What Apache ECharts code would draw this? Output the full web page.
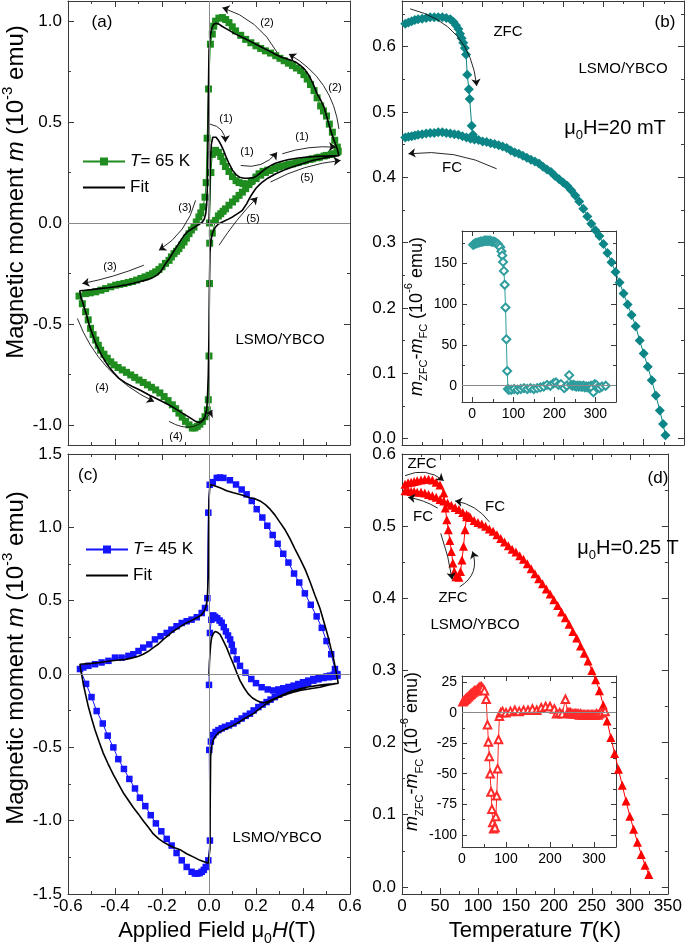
<!DOCTYPE html>
<html><head><meta charset="utf-8">
<script src="https://cdn.jsdelivr.net/npm/echarts@6.0.0/dist/echarts.min.js"></script>
<style>html,body{margin:0;padding:0;background:#fff}#c{width:685px;height:947px}</style>
</head><body><div id="c"></div>
<script>
// ================= DATA =================
// (a) T = 65 K loop: measured data, [H (T), m (1e-3 emu)]
const a_virgin = [[0.002,0.00],[0.008,0.25],[0.014,0.34],[0.028,0.36],[0.04,0.35],[0.05,0.33],[0.06,0.305],[0.07,0.28],[0.085,0.255],[0.1,0.23],[0.115,0.21],[0.128,0.2],[0.145,0.195],[0.163,0.194],[0.18,0.205],[0.2,0.22],[0.22,0.237],[0.24,0.25],[0.26,0.26],[0.28,0.27],[0.3,0.277],[0.33,0.285],[0.355,0.293],[0.38,0.3],[0.41,0.31],[0.44,0.318],[0.47,0.326],[0.5,0.335],[0.525,0.343],[0.55,0.356]];
const a_down = [[0.546,0.376],[0.535,0.41],[0.525,0.45],[0.512,0.49],[0.5,0.53],[0.487,0.555],[0.475,0.58],[0.46,0.62],[0.447,0.656],[0.432,0.686],[0.418,0.713],[0.404,0.735],[0.39,0.755],[0.372,0.768],[0.355,0.78],[0.338,0.792],[0.32,0.804],[0.302,0.816],[0.284,0.829],[0.262,0.842],[0.24,0.853],[0.22,0.865],[0.2,0.878],[0.178,0.893],[0.156,0.91],[0.135,0.93],[0.113,0.952],[0.099,0.972],[0.085,0.993],[0.071,1.008],[0.057,1.018],[0.042,1.015],[0.028,1.0],[0.02,0.975],[0.014,0.936],[0.006,0.886],[-0.002,0.664],[-0.008,0.42],[-0.012,0.2],[-0.017,0.128],[-0.026,0.08],[-0.035,0.05],[-0.043,0.03],[-0.054,0.005],[-0.064,-0.02],[-0.075,-0.035],[-0.085,-0.053],[-0.096,-0.075],[-0.106,-0.094],[-0.117,-0.11],[-0.128,-0.127],[-0.138,-0.14],[-0.149,-0.152],[-0.16,-0.168],[-0.17,-0.185],[-0.185,-0.2],[-0.2,-0.217],[-0.213,-0.23],[-0.227,-0.242],[-0.24,-0.251],[-0.255,-0.259],[-0.272,-0.267],[-0.29,-0.275],[-0.308,-0.283],[-0.326,-0.29],[-0.344,-0.295],[-0.362,-0.3],[-0.38,-0.304],[-0.397,-0.308],[-0.418,-0.316],[-0.44,-0.325],[-0.46,-0.333],[-0.482,-0.341],[-0.505,-0.346],[-0.525,-0.35],[-0.553,-0.362]];
const a_up = [[-0.539,-0.4],[-0.525,-0.44],[-0.514,-0.48],[-0.504,-0.522],[-0.493,-0.553],[-0.482,-0.58],[-0.471,-0.606],[-0.461,-0.63],[-0.447,-0.65],[-0.433,-0.67],[-0.418,-0.688],[-0.404,-0.703],[-0.387,-0.716],[-0.369,-0.728],[-0.351,-0.74],[-0.333,-0.753],[-0.316,-0.765],[-0.298,-0.778],[-0.28,-0.79],[-0.262,-0.802],[-0.245,-0.814],[-0.227,-0.827],[-0.209,-0.842],[-0.191,-0.86],[-0.174,-0.88],[-0.156,-0.901],[-0.142,-0.92],[-0.128,-0.942],[-0.114,-0.962],[-0.1,-0.983],[-0.085,-1.0],[-0.071,-1.016],[-0.06,-1.015],[-0.05,-1.008],[-0.039,-0.997],[-0.028,-0.983],[-0.017,-0.96],[-0.007,-0.926],[-0.003,-0.876],[0.0,-0.659],[0.002,-0.3],[0.003,-0.1],[0.014,-0.05],[0.028,0.013],[0.04,0.035],[0.05,0.046],[0.06,0.058],[0.07,0.07],[0.085,0.088],[0.1,0.104],[0.114,0.12],[0.128,0.137],[0.142,0.153],[0.156,0.17],[0.17,0.19],[0.184,0.21],[0.2,0.228],[0.213,0.244],[0.23,0.256],[0.25,0.262],[0.28,0.274],[0.31,0.283],[0.34,0.29],[0.37,0.298],[0.4,0.306],[0.43,0.315],[0.46,0.323],[0.49,0.332],[0.52,0.34],[0.545,0.35]];
// (a) fit curve
const a_fitVirgin = [[0,0],[0.003,0.15],[0.006,0.3],[0.01,0.39],[0.016,0.425],[0.022,0.432],[0.03,0.425],[0.04,0.41],[0.05,0.39],[0.06,0.365],[0.07,0.335],[0.085,0.295],[0.1,0.262],[0.115,0.24],[0.13,0.227],[0.15,0.222],[0.17,0.222],[0.19,0.225],[0.205,0.235],[0.22,0.25],[0.24,0.268],[0.26,0.283],[0.28,0.295],[0.31,0.306],[0.34,0.315],[0.38,0.322],[0.42,0.327],[0.46,0.33],[0.5,0.332],[0.553,0.334]];
const a_fitDown = [[0.545,0.37],[0.532,0.41],[0.52,0.45],[0.51,0.49],[0.5,0.53],[0.49,0.573],[0.475,0.61],[0.46,0.64],[0.443,0.69],[0.426,0.73],[0.408,0.76],[0.39,0.78],[0.372,0.795],[0.355,0.804],[0.333,0.813],[0.312,0.82],[0.284,0.835],[0.255,0.853],[0.22,0.873],[0.184,0.895],[0.15,0.915],[0.113,0.936],[0.08,0.958],[0.055,0.975],[0.043,0.985],[0.03,0.99],[0.02,0.985],[0.012,0.965],[0.007,0.936],[0.003,0.9],[0.0,0.853],[-0.003,0.606],[-0.005,0.35],[-0.007,0.178],[-0.01,0.09],[-0.014,0.046],[-0.02,0.02],[-0.028,0.005],[-0.04,-0.005],[-0.05,-0.012],[-0.06,-0.02],[-0.071,-0.028],[-0.082,-0.036],[-0.092,-0.044],[-0.105,-0.06],[-0.12,-0.086],[-0.138,-0.118],[-0.156,-0.152],[-0.17,-0.178],[-0.184,-0.2],[-0.195,-0.222],[-0.206,-0.242],[-0.22,-0.257],[-0.234,-0.267],[-0.25,-0.276],[-0.27,-0.283],[-0.3,-0.292],[-0.326,-0.3],[-0.36,-0.308],[-0.397,-0.316],[-0.43,-0.321],[-0.468,-0.325],[-0.5,-0.33],[-0.525,-0.333],[-0.55,-0.336]];
const a_fitUp = [[-0.545,-0.37],[-0.538,-0.39],[-0.532,-0.415],[-0.52,-0.46],[-0.51,-0.506],[-0.496,-0.55],[-0.482,-0.596],[-0.468,-0.63],[-0.454,-0.662],[-0.44,-0.688],[-0.426,-0.712],[-0.405,-0.742],[-0.383,-0.77],[-0.355,-0.792],[-0.326,-0.81],[-0.29,-0.83],[-0.255,-0.852],[-0.22,-0.872],[-0.184,-0.893],[-0.15,-0.915],[-0.113,-0.942],[-0.085,-0.962],[-0.057,-0.983],[-0.045,-0.988],[-0.035,-0.985],[-0.025,-0.975],[-0.017,-0.959],[-0.01,-0.925],[-0.007,-0.876],[-0.003,-0.75],[0.0,-0.547],[0.002,-0.3],[0.004,-0.15],[0.008,-0.09],[0.014,-0.053],[0.02,-0.035],[0.028,-0.02],[0.04,-0.005],[0.057,0.005],[0.08,0.018],[0.1,0.03],[0.12,0.045],[0.142,0.063],[0.16,0.095],[0.175,0.128],[0.184,0.145],[0.2,0.172],[0.215,0.19],[0.227,0.203],[0.25,0.222],[0.284,0.244],[0.32,0.262],[0.355,0.277],[0.4,0.295],[0.44,0.31],[0.48,0.32],[0.525,0.33],[0.553,0.334]];

// (c) T = 45 K loop: measured data
const c_virgin = [[0.0,-0.074],[0.004,0.28],[0.01,0.37],[0.018,0.4],[0.026,0.39],[0.035,0.38],[0.045,0.365],[0.054,0.35],[0.063,0.32],[0.072,0.29],[0.081,0.263],[0.09,0.236],[0.097,0.2],[0.104,0.157],[0.118,0.1],[0.132,0.056],[0.155,0.01],[0.18,-0.034],[0.2,-0.062],[0.224,-0.09],[0.25,-0.105],[0.274,-0.112],[0.295,-0.105],[0.316,-0.097],[0.338,-0.088],[0.36,-0.079],[0.38,-0.068],[0.4,-0.056],[0.422,-0.045],[0.444,-0.034],[0.466,-0.028],[0.487,-0.022],[0.5,-0.016],[0.515,-0.011],[0.53,-0.005],[0.546,0.0]];
const c_down = [[0.536,0.034],[0.52,0.135],[0.5,0.225],[0.48,0.315],[0.458,0.393],[0.433,0.472],[0.408,0.55],[0.384,0.624],[0.362,0.685],[0.338,0.76],[0.316,0.82],[0.292,0.888],[0.271,0.948],[0.248,1.011],[0.227,1.067],[0.203,1.124],[0.182,1.18],[0.16,1.225],[0.139,1.258],[0.115,1.292],[0.089,1.321],[0.061,1.337],[0.047,1.34],[0.033,1.337],[0.016,1.308],[0.003,1.29],[-0.003,1.1],[-0.007,0.517],[-0.017,0.45],[-0.031,0.416],[-0.052,0.387],[-0.074,0.371],[-0.095,0.36],[-0.116,0.348],[-0.138,0.326],[-0.16,0.303],[-0.18,0.28],[-0.206,0.258],[-0.23,0.236],[-0.254,0.202],[-0.28,0.18],[-0.3,0.157],[-0.322,0.135],[-0.343,0.124],[-0.372,0.112],[-0.4,0.112],[-0.428,0.09],[-0.457,0.079],[-0.485,0.067],[-0.513,0.056],[-0.535,0.045],[-0.549,0.034]];
const c_up = [[-0.523,-0.067],[-0.5,-0.157],[-0.478,-0.252],[-0.452,-0.337],[-0.431,-0.42],[-0.407,-0.5],[-0.386,-0.58],[-0.362,-0.647],[-0.339,-0.715],[-0.315,-0.78],[-0.294,-0.843],[-0.271,-0.9],[-0.248,-0.962],[-0.226,-1.018],[-0.203,-1.072],[-0.18,-1.124],[-0.159,-1.169],[-0.138,-1.22],[-0.116,-1.27],[-0.095,-1.315],[-0.074,-1.348],[-0.06,-1.36],[-0.05,-1.36],[-0.04,-1.357],[-0.031,-1.348],[-0.022,-1.335],[-0.014,-1.315],[-0.003,-1.27],[0.004,-1.135],[0.001,-0.517],[0.008,-0.46],[0.018,-0.416],[0.028,-0.395],[0.04,-0.382],[0.054,-0.37],[0.068,-0.36],[0.085,-0.35],[0.104,-0.337],[0.12,-0.32],[0.139,-0.303],[0.156,-0.285],[0.174,-0.27],[0.19,-0.248],[0.21,-0.225],[0.228,-0.208],[0.245,-0.191],[0.262,-0.174],[0.28,-0.157],[0.298,-0.14],[0.316,-0.124],[0.338,-0.112],[0.36,-0.101],[0.38,-0.09],[0.4,-0.079],[0.422,-0.062],[0.444,-0.045],[0.466,-0.036],[0.487,-0.027],[0.51,-0.022],[0.529,-0.018],[0.546,-0.011]];
// (c) fit curve
const c_fitVirgin = [[0,-0.011],[0.002,0.08],[0.004,0.135],[0.007,0.2],[0.011,0.247],[0.018,0.275],[0.026,0.29],[0.035,0.285],[0.047,0.27],[0.06,0.23],[0.075,0.18],[0.09,0.12],[0.104,0.067],[0.118,0.01],[0.132,-0.045],[0.15,-0.095],[0.167,-0.135],[0.185,-0.163],[0.203,-0.18],[0.217,-0.19],[0.231,-0.196],[0.245,-0.19],[0.26,-0.18],[0.29,-0.16],[0.316,-0.139],[0.35,-0.118],[0.387,-0.101],[0.42,-0.088],[0.458,-0.079],[0.49,-0.072],[0.529,-0.067],[0.55,-0.063]];
const c_fitDown = [[0.545,-0.02],[0.538,0.04],[0.529,0.112],[0.518,0.18],[0.508,0.247],[0.49,0.35],[0.472,0.449],[0.45,0.54],[0.43,0.629],[0.41,0.71],[0.387,0.787],[0.365,0.855],[0.345,0.921],[0.325,0.98],[0.302,1.034],[0.28,1.085],[0.26,1.124],[0.24,1.155],[0.217,1.18],[0.195,1.195],[0.174,1.202],[0.14,1.22],[0.104,1.236],[0.075,1.25],[0.047,1.27],[0.02,1.285],[0.004,1.292],[0.0,1.19],[-0.002,0.9],[-0.003,0.674],[-0.006,0.55],[-0.01,0.472],[-0.02,0.43],[-0.031,0.404],[-0.05,0.385],[-0.067,0.371],[-0.088,0.355],[-0.109,0.337],[-0.13,0.315],[-0.152,0.292],[-0.172,0.265],[-0.194,0.236],[-0.215,0.205],[-0.237,0.18],[-0.258,0.155],[-0.28,0.135],[-0.3,0.122],[-0.322,0.112],[-0.355,0.1],[-0.393,0.094],[-0.43,0.087],[-0.464,0.079],[-0.5,0.073],[-0.549,0.067]];
const c_fitUp = [[-0.545,0.02],[-0.54,-0.02],[-0.535,-0.067],[-0.525,-0.14],[-0.513,-0.225],[-0.5,-0.3],[-0.485,-0.382],[-0.468,-0.46],[-0.45,-0.539],[-0.43,-0.61],[-0.407,-0.685],[-0.385,-0.75],[-0.365,-0.809],[-0.343,-0.86],[-0.322,-0.91],[-0.3,-0.955],[-0.28,-1.0],[-0.258,-1.045],[-0.237,-1.09],[-0.215,-1.122],[-0.194,-1.146],[-0.172,-1.165],[-0.152,-1.18],[-0.12,-1.2],[-0.095,-1.225],[-0.065,-1.248],[-0.038,-1.27],[-0.015,-1.283],[-0.003,-1.29],[0.004,-1.19],[0.005,-0.9],[0.007,-0.562],[0.012,-0.49],[0.018,-0.45],[0.026,-0.427],[0.04,-0.4],[0.061,-0.382],[0.09,-0.36],[0.118,-0.337],[0.15,-0.305],[0.189,-0.27],[0.22,-0.23],[0.245,-0.202],[0.28,-0.17],[0.316,-0.146],[0.35,-0.127],[0.387,-0.112],[0.43,-0.1],[0.472,-0.09],[0.51,-0.075],[0.55,-0.063]];

// (b) mu0H = 20 mT: [T (K), m (1e-3 emu)]
const b_fc = [[4,0.461],[8,0.462],[12,0.463],[16,0.464],[20,0.465],[25,0.466],[30,0.467],[35,0.468],[40,0.468],[45,0.469],[50,0.469],[55,0.468],[60,0.467],[65,0.466],[70,0.465],[75,0.463],[80,0.461],[85,0.459],[90,0.458],[95,0.457],[100,0.455],[105,0.454],[110,0.452],[115,0.451],[120,0.449],[125,0.447],[130,0.445],[135,0.441],[140,0.438],[145,0.436],[150,0.433],[155,0.43],[160,0.427],[165,0.424],[170,0.421],[175,0.416],[180,0.412],[185,0.408],[190,0.402],[195,0.397],[200,0.392],[205,0.387],[210,0.38],[215,0.372],[220,0.363],[225,0.352],[230,0.34],[235,0.329],[240,0.319],[245,0.31],[250,0.298],[255,0.284],[260,0.27],[265,0.255],[270,0.239],[275,0.222],[280,0.205],[285,0.189],[290,0.172],[295,0.15],[300,0.13],[305,0.11],[310,0.089],[315,0.066],[320,0.043],[324,0.022],[327,0.005]];
const b_zfc = [[4,0.635],[8,0.637],[12,0.639],[16,0.641],[20,0.642],[25,0.643],[30,0.644],[35,0.645],[40,0.645],[45,0.645],[50,0.645],[55,0.644],[60,0.642],[64,0.638],[67,0.633],[70,0.627],[72,0.62],[74,0.613],[76,0.606],[78,0.598],[79.5,0.588],[81,0.557],[83,0.535],[84,0.52],[86.5,0.479],[88,0.465],[90,0.459]];
// (b) inset: m_ZFC - m_FC (1e-6 emu)
const b_diff = [[2,173],[5,174],[8,175],[11,175],[14,176],[17,176],[20,177],[23,177],[26,177],[29,178],[32,178],[35,178],[38,178],[41,178],[44,178],[47,177],[50,177],[53,177],[56,176],[59,175],[62,174],[65,172],[68,170],[71,165],[73,160],[75,152],[77,141],[79,124],[81,96],[83,57],[85,18],[87,-4],[89,-5],[95,-5],[102,-4],[110,-5],[118,-4],[126,-3],[134,-4],[142,-3],[150,-4],[158,-3],[166,-2],[174,-1],[182,1],[190,0],[198,3],[204,4],[210,1],[216,2],[224,-3],[230,0],[236,13],[241,1],[244,0],[247,1],[250,0],[253,-1],[256,0],[259,-1],[262,0],[265,-1],[268,-1],[271,0],[274,-2],[277,-1],[280,-2],[283,-1],[286,-2],[289,0],[292,-3],[295,-8],[298,2],[302,1],[306,-2],[310,-3],[316,-1],[325,0]];

// (d) mu0H = 0.25 T
const d_fc = [[4,0.549],[8,0.549],[12,0.548],[16,0.548],[20,0.547],[25,0.547],[30,0.546],[35,0.544],[40,0.542],[45,0.54],[50,0.537],[55,0.535],[60,0.532],[65,0.529],[70,0.526],[75,0.523],[80,0.519],[85,0.516],[90,0.512],[95,0.508],[100,0.505],[105,0.503],[110,0.5],[115,0.496],[120,0.493],[125,0.488],[130,0.483],[135,0.478],[140,0.473],[145,0.468],[150,0.464],[155,0.459],[160,0.454],[165,0.448],[170,0.441],[175,0.434],[180,0.427],[185,0.42],[190,0.413],[195,0.406],[200,0.398],[205,0.39],[210,0.381],[215,0.373],[220,0.364],[225,0.354],[230,0.345],[235,0.334],[240,0.324],[245,0.313],[250,0.3],[255,0.287],[260,0.272],[265,0.252],[270,0.23],[275,0.207],[280,0.185],[285,0.163],[290,0.141],[295,0.119],[300,0.098],[305,0.08],[310,0.062],[315,0.045],[320,0.03],[325,0.017]];
const d_zfc = [[4,0.558],[8,0.56],[12,0.561],[16,0.562],[20,0.563],[25,0.564],[30,0.565],[35,0.565],[40,0.564],[45,0.561],[50,0.557],[55,0.546],[57,0.525],[59,0.509],[61,0.495],[63,0.48],[65,0.465],[67,0.449],[69,0.437],[71,0.43],[75,0.429],[77,0.437],[79,0.453],[81,0.472],[83,0.495],[85,0.513],[88,0.514]];
const d_diff = [[2,9],[5,10],[8,11],[11,12],[14,13],[17,14],[20,15],[23,16],[26,17],[29,18],[32,18],[35,19],[38,20],[41,21],[44,21],[47,20],[51,18],[55,11],[58,-10],[60,-24],[62,-36],[64,-50],[66,-65],[68,-79],[70,-90],[72,-95],[75,-94],[77,-85],[79,-68],[81,-46],[83,-22],[85,-3],[88,0],[92,1],[100,0],[110,1],[120,2],[130,1],[140,2],[150,2],[160,3],[170,2],[180,4],[190,5],[200,5],[210,3],[215,-1],[222,0],[228,-1],[235,11],[240,0],[243,0],[246,0],[249,-1],[252,-1],[255,-1],[258,-1],[261,-1],[264,-1],[267,-2],[270,-1],[273,-2],[276,-2],[279,-2],[282,-2],[285,-2],[288,-2],[291,-2],[294,-2],[297,-2],[300,-2],[303,-2],[306,-1],[309,-2],[312,-1],[318,0],[325,1]];

// annotation arrows: [x1, y1, x2, y2, curveness]
const a_arrows = [[0.004,0.49,0.07,0.40,0.4],[0.135,0.285,0.29,0.35,-0.3],[0.312,0.343,0.54,0.376,0.1],[0.29,0.845,0.057,1.067,-0.2],[0.553,0.466,0.34,0.837,-0.25],[-0.057,0.112,-0.213,-0.135,0.2],[-0.277,-0.209,-0.539,-0.3,0.05],[-0.56,-0.473,-0.234,-0.885,-0.2],[-0.17,-0.983,0.014,-0.926,-0.5],[0.262,0.203,0.56,0.31,0.1],[0.043,-0.11,0.206,0.128,0.05]];
const b_arrows = [[10,0.658,92.7,0.54,0.35],[117.5,0.413,8,0.436,-0.15]];
const d_arrows = [[4,0.57,55,0.563,0.3],[47,0.525,8,0.54,-0.1],[115,0.506,70,0.535,-0.2],[51,0.49,66,0.426,0.05],[76,0.416,92.7,0.465,-0.4]];

// ================= CHART =================
const FONT = 'Arial, "Liberation Sans", sans-serif';
const AX = '#3a3a3a';
const xAxes = [], yAxes = [];
function fmtFor(step, dec) {
  return v => (Math.abs(v / step - Math.round(v / step)) < 1e-6) ? (Math.abs(v) < 1e-9 ? (0).toFixed(dec) : v.toFixed(dec)) : '';
}
function richSet(fs, key) {
  const s = Math.round(fs * 0.62);
  const c = key || 'color';
  const o = {
    i: {fontStyle: 'italic', fontSize: fs, fontFamily: FONT, lineHeight: fs + 8},
    n: {fontSize: fs, fontFamily: FONT, lineHeight: fs + 8},
    sub: {fontSize: s, fontFamily: FONT, verticalAlign: 'bottom', lineHeight: s},
    sup: {fontSize: s, fontFamily: FONT, verticalAlign: 'top', lineHeight: s}
  };
  Object.keys(o).forEach(k => { o[k][c] = '#000'; });
  return o;
}
function nameStyle(fs, pad) {
  return {fontSize: fs, fontFamily: FONT, color: '#000', lineHeight: fs + 8, padding: pad || 0, rich: richSet(fs)};
}
function addFrame(list, dim, gi, min, max, major, minor, o) {
  o = o || {};
  const near = dim === 'x' ? 'bottom' : 'left', far = dim === 'x' ? 'top' : 'right';
  const mk = (pos, step, main, len) => ({
    type: 'value', gridIndex: gi, position: pos, min: min, max: max, minInterval: step, maxInterval: step,
    splitLine: {show: false}, splitArea: {show: false}, silent: true,
    axisLine: {show: main, onZero: false, lineStyle: {color: AX, width: 1}},
    axisTick: {show: true, inside: true, length: len, lineStyle: {color: AX, width: 1}},
    axisLabel: {show: false}
  });
  const idx = list.length;
  const tl = o.tick || 6, ml = o.mtick || 3;
  const m = mk(near, major, true, tl);
  if (o.labels) m.axisLabel = {show: true, fontSize: o.fs, fontFamily: FONT, color: '#000', margin: o.margin, formatter: fmtFor(major, o.dec)};
  if (o.name) { m.name = o.name; m.nameLocation = 'middle'; m.nameGap = o.nameGap; m.nameTextStyle = o.nameStyle; }
  list.push(m, mk(far, major, true, tl), mk(near, minor, false, ml), mk(far, minor, false, ml));
  return idx;
}

const grids = [
  {left: 68, top: 1, width: 282, height: 444},
  {left: 402, top: 1, width: 282, height: 444},
  {left: 462, top: 231, width: 154, height: 171},
  {left: 68, top: 454, width: 282, height: 445},
  {left: 402, top: 454, width: 282, height: 445},
  {left: 462, top: 676, width: 154, height: 171}
];
const yName = 'Magnetic moment {i|m} (10{sup|-3} emu)';
const insetName = '{i|m}{sub|ZFC}-{i|m}{sub|FC} (10{sup|-6} emu)';

const ax_a = addFrame(xAxes, 'x', 0, -0.6, 0.6, 0.2, 0.1);
const ay_a = addFrame(yAxes, 'y', 0, -1.1, 1.1, 0.5, 0.25, {labels: true, fs: 17, margin: 6, dec: 1});
const ax_b = addFrame(xAxes, 'x', 1, 0, 350, 50, 25);
const ay_b = addFrame(yAxes, 'y', 1, -0.01, 0.67, 0.1, 0.05, {labels: true, fs: 17, margin: 6, dec: 1});
const ax_bi = addFrame(xAxes, 'x', 2, -25, 350, 100, 50, {labels: true, fs: 14, margin: 5, dec: 0, tick: 5});
const ay_bi = addFrame(yAxes, 'y', 2, -20, 190, 50, 25, {labels: true, fs: 14, margin: 5, dec: 0, tick: 5, name: insetName, nameGap: 26, nameStyle: nameStyle(18)});
const ax_c = addFrame(xAxes, 'x', 3, -0.6, 0.6, 0.2, 0.1, {labels: true, fs: 17, margin: 4, dec: 1, name: 'Applied Field {n|μ}{sub|0}{i|H}(T)', nameGap: 20, nameStyle: nameStyle(22, [0, 0, 0, 16])});
const ay_c = addFrame(yAxes, 'y', 3, -1.5, 1.5, 0.5, 0.25, {labels: true, fs: 17, margin: 6, dec: 1});
const ax_d = addFrame(xAxes, 'x', 4, 0, 350, 50, 25, {labels: true, fs: 17, margin: 4, dec: 0, name: 'Temperature {i|T}(K)', nameGap: 20, nameStyle: nameStyle(22)});
const ay_d = addFrame(yAxes, 'y', 4, -0.01, 0.6, 0.1, 0.05, {labels: true, fs: 17, margin: 6, dec: 1});
const ax_di = addFrame(xAxes, 'x', 5, 0, 350, 100, 50, {labels: true, fs: 14, margin: 5, dec: 0, tick: 5});
const ay_di = addFrame(yAxes, 'y', 5, -110, 30, 25, 12.5, {labels: true, fs: 14, margin: 5, dec: 0, tick: 5, name: insetName, nameGap: 30, nameStyle: nameStyle(18, [0, 0, 0, 20])});

function zeroLines(xi, yi, both) {
  return {type: 'line', xAxisIndex: xi, yAxisIndex: yi, data: [], silent: true, z: 1,
    markLine: {silent: true, symbol: ['none', 'none'], label: {show: false}, animation: false,
      lineStyle: {color: '#8a8a8a', width: 1, type: 'solid'},
      data: both ? [{yAxis: 0}, {xAxis: 0}] : [{yAxis: 0}]}};
}
function arrows(xi, yi, list) {
  return {type: 'lines', coordinateSystem: 'cartesian2d', xAxisIndex: xi, yAxisIndex: yi, silent: true, z: 6,
    symbol: ['none', 'arrow'], symbolSize: 7, lineStyle: {color: '#111', width: 0.9, opacity: 1},
    data: list.map(a => ({coords: [[a[0], a[1]], [a[2], a[3]]], lineStyle: {curveness: a[4]}}))};
}
function dataLine(name, xi, yi, pts, color, symbol, size, extra) {
  return Object.assign({type: 'line', name: name, xAxisIndex: xi, yAxisIndex: yi, data: pts, symbol: symbol, symbolSize: size,
    showSymbol: true, showAllSymbol: true, itemStyle: {color: color}, lineStyle: {color: color, width: 1}, z: 3, animation: false}, extra || {});
}
function fitLine(xi, yi, pts) {
  return {type: 'line', name: 'Fit', xAxisIndex: xi, yAxisIndex: yi, data: pts, symbol: 'none', showSymbol: false,
    itemStyle: {color: '#000'}, lineStyle: {color: '#000', width: 1.6}, z: 4, animation: false};
}

const GREEN = '#1e8c1e', BLUE = '#1414ff', TEAL = '#0b8585', TEAL2 = '#2f9d9d', RED = '#ff0000', RED2 = '#ff2a2a';

const series = [
  zeroLines(ax_a, ay_a, true),
  dataLine('T= 65 K', ax_a, ay_a, [...a_virgin, ...a_down, ...a_up], GREEN, 'rect', 7),
  fitLine(ax_a, ay_a, [...a_fitVirgin, ...a_fitDown, ...a_fitUp]),
  arrows(ax_a, ay_a, a_arrows),

  dataLine('ZFC20', ax_b, ay_b, b_zfc, TEAL, 'diamond', 10),
  dataLine('FC20', ax_b, ay_b, b_fc, TEAL, 'diamond', 10),
  arrows(ax_b, ay_b, b_arrows),

  zeroLines(ax_bi, ay_bi, false),
  dataLine('diff20', ax_bi, ay_bi, b_diff, TEAL2, 'emptyDiamond', 8, {itemStyle: {color: TEAL2, borderWidth: 1}}),

  zeroLines(ax_c, ay_c, true),
  dataLine('T= 45 K', ax_c, ay_c, [...c_virgin, ...c_down, ...c_up], BLUE, 'rect', 6.5),
  fitLine(ax_c, ay_c, [...c_fitVirgin, ...c_fitDown, ...c_fitUp]),

  dataLine('ZFC25', ax_d, ay_d, d_zfc, RED, 'triangle', 9),
  dataLine('FC25', ax_d, ay_d, d_fc, RED, 'triangle', 9),
  arrows(ax_d, ay_d, d_arrows),

  zeroLines(ax_di, ay_di, false),
  dataLine('diff25', ax_di, ay_di, d_diff, RED2, 'emptyTriangle', 7.5, {itemStyle: {color: RED2, borderWidth: 1}})
];

function txt(x, y, text, fs, extra) {
  return {type: 'text', x: x, y: y, silent: true, z: 100,
    style: Object.assign({text: text, fill: '#000', fontSize: fs, fontFamily: FONT, align: 'center', verticalAlign: 'middle'}, extra || {})};
}
function vtxt(x, y, text, fs) {
  const el = txt(x, y, text, fs, {rich: richSet(fs, 'fill'), lineHeight: fs + 8});
  el.rotation = Math.PI / 2;
  return el;
}
const muRich = fs => ({rich: {
  n: {fontSize: fs, fontFamily: FONT, fill: '#000', lineHeight: fs + 8},
  s: {fontSize: Math.round(fs * 0.65), fontFamily: FONT, fill: '#000', verticalAlign: 'bottom', lineHeight: Math.round(fs * 0.65)}
}});
const graphic = [
  vtxt(16, 192, yName, 24), vtxt(16, 658, yName, 24),
  txt(102, 22, '(a)', 17), txt(280, 340, 'LSMO/YBCO', 15),
  txt(226, 119, '(1)', 11), txt(247, 152, '(1)', 11), txt(302, 137, '(1)', 11),
  txt(267, 23, '(2)', 11), txt(335, 88, '(2)', 11),
  txt(185, 208, '(3)', 11), txt(110, 267, '(3)', 11),
  txt(102, 388, '(4)', 11), txt(176, 437, '(4)', 11),
  txt(307, 178, '(5)', 11), txt(253, 219, '(5)', 11),
  txt(665, 22, '(b)', 17), txt(508, 32, 'ZFC', 15), txt(623, 69, 'LSMO/YBCO', 15), txt(452, 168, 'FC', 15),
  txt(615, 128, '{n|μ}{s|0}{n|H=20 mT}', 20, muRich(20)),
  txt(88, 475, '(c)', 17), txt(277, 838, 'LSMO/YBCO', 15),
  txt(658, 478, '(d)', 17), txt(422, 464, 'ZFC', 15), txt(423, 517, 'FC', 15), txt(495, 507, 'FC', 15),
  txt(453, 598, 'ZFC', 15), txt(475, 625, 'LSMO/YBCO', 15),
  txt(628, 548, '{n|μ}{s|0}{n|H=0.25 T}', 20, muRich(20))
];

const legendBase = {orient: 'vertical', itemWidth: 42, itemHeight: 10, itemGap: 9, selectedMode: false, padding: 0,
  formatter: n => n.indexOf('T=') === 0 ? '{i|T}' + n.slice(1) : n,
  textStyle: {fontSize: 17, fontFamily: FONT, color: '#000', rich: {i: {fontStyle: 'italic', fontSize: 17, fontFamily: FONT, color: '#000'}}}};

const chart = echarts.init(document.getElementById('c'), null, {renderer: 'canvas'});
chart.setOption({
  animation: false,
  backgroundColor: '#fff',
  grid: grids,
  xAxis: xAxes,
  yAxis: yAxes,
  legend: [
    Object.assign({}, legendBase, {data: ['T= 65 K', {name: 'Fit', itemStyle: {opacity: 0}}], left: 82, top: 153}),
    Object.assign({}, legendBase, {data: ['T= 45 K', {name: 'Fit', itemStyle: {opacity: 0}}], left: 85, top: 541})
  ],
  series: series,
  graphic: graphic
});
</script></body></html>
